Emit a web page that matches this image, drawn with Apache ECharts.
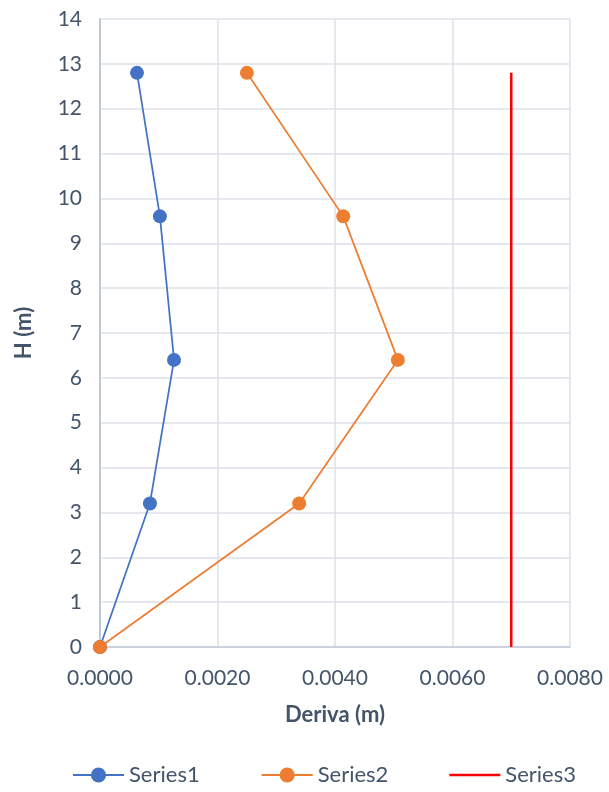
<!DOCTYPE html>
<html><head><meta charset="utf-8">
<script src="https://cdn.jsdelivr.net/npm/echarts@6/dist/echarts.min.js"></script>
<style>html,body{margin:0;padding:0;background:#fff}#c{width:609px;height:792px}</style>
</head><body><div id="c"></div>
<script>
const heights = [0, 3.2, 6.4, 9.6, 12.8];
const series1 = [0, 0.00085, 0.00126, 0.00102, 0.00063];
const series2 = [0, 0.00339, 0.00507, 0.00414, 0.0025];
const series3X = 0.007;
const series3H = [0, 12.8];
const seriesNames = ['Series1', 'Series2', 'Series3'];
const xTitle = 'Deriva (m)';
const yTitle = 'H (m)';

const font = 'Lato, "Open Sans", sans-serif';
const txt = '#44546A';
const chart = echarts.init(document.getElementById('c'), null, {renderer: 'canvas'});
chart.setOption({
  animation: false,
  textStyle: {fontFamily: font},
  grid: {left: 100, right: 39, top: 19, bottom: 145},
  legend: {
    left: 72, top: 764, padding: 0, itemGap: 61, itemWidth: 51, itemHeight: 19,
    textStyle: {fontSize: 22, color: txt, fontFamily: font},
    data: [seriesNames[0], seriesNames[1],
      {name: seriesNames[2], icon: 'path://M0,0H51V2.5H0Z'}]
  },
  xAxis: {
    type: 'value', min: 0, max: 0.008, interval: 0.002,
    name: xTitle, nameLocation: 'middle', nameGap: 57,
    nameTextStyle: {fontSize: 22, fontWeight: 'bold', color: txt, fontFamily: font},
    axisLine: {show: true, lineStyle: {color: '#c3cad8', width: 1.5}},
    axisTick: {show: false},
    axisLabel: {fontSize: 21, color: txt, margin: 21, formatter: v => v.toFixed(4)},
    splitLine: {show: true, lineStyle: {color: '#dde1e8', width: 1.5}}
  },
  yAxis: {
    type: 'value', min: 0, max: 14, interval: 1,
    name: yTitle, nameLocation: 'middle', nameGap: 65, nameRotate: 90,
    nameTextStyle: {fontSize: 22, fontWeight: 'bold', color: txt, fontFamily: font},
    axisLine: {show: true, lineStyle: {color: '#b4bdd0', width: 1.5}},
    axisTick: {show: false},
    axisLabel: {fontSize: 21, color: txt, margin: 18},
    splitLine: {show: true, lineStyle: {color: '#dde1e8', width: 1.5}}
  },
  series: [
    {name: seriesNames[0], type: 'line', data: heights.map((h, i) => [series1[i], h]),
     symbol: 'circle', symbolSize: 14, color: '#4472C4',
     lineStyle: {width: 1.75, color: '#4472C4'}, itemStyle: {color: '#4472C4'}},
    {name: seriesNames[1], type: 'line', data: heights.map((h, i) => [series2[i], h]),
     symbol: 'circle', symbolSize: 14, color: '#ED7D31',
     lineStyle: {width: 1.75, color: '#ED7D31'}, itemStyle: {color: '#ED7D31'}},
    {name: seriesNames[2], type: 'line', data: series3H.map(h => [series3X, h]),
     symbol: 'none', color: '#FF0000',
     lineStyle: {width: 2.5, color: '#FF0000'}, itemStyle: {color: '#FF0000'}}
  ]
});
</script></body></html>
